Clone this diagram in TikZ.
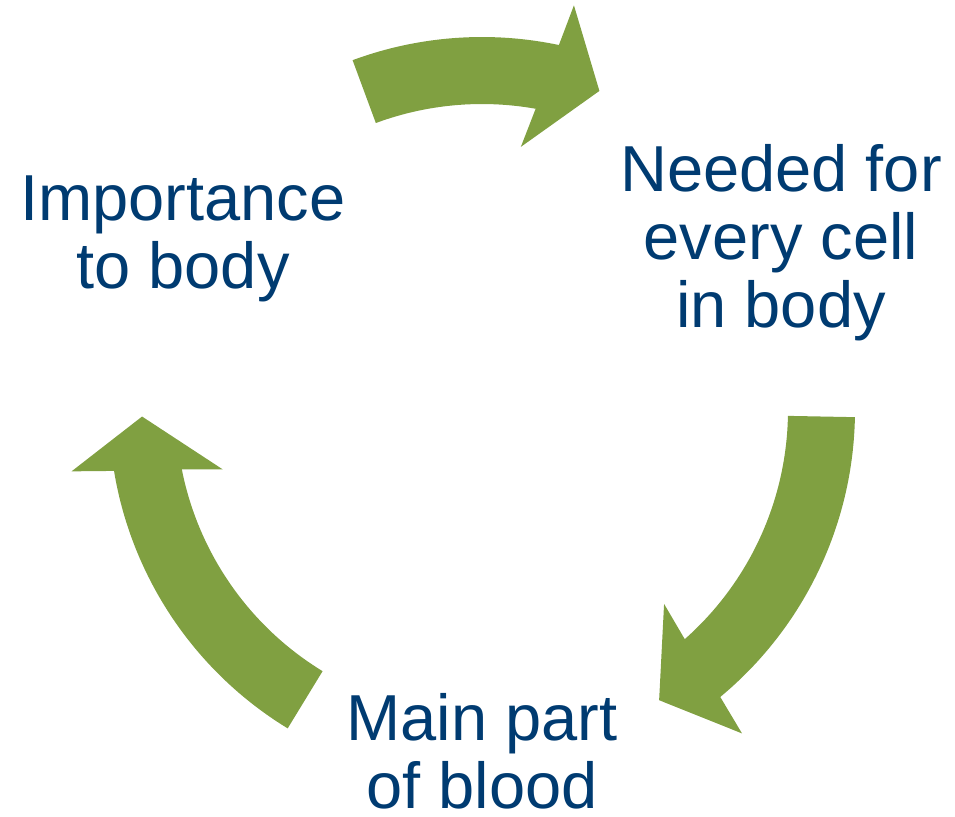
\documentclass[tikz,border=0pt]{standalone}
\usepackage{fontspec}
\newfontfamily\labelfont{Liberation Sans}
\usetikzlibrary{positioning}

\definecolor{cyclegreen}{RGB}{128,160,65}
\definecolor{cycleblue}{RGB}{0,59,113}

\tikzset{
  cyclearrow/.style={fill=cyclegreen, draw=none},
  cyclelabel/.style={text=cycleblue, align=center, anchor=base, inner sep=0pt,
    font=\labelfont\fontsize{32.5}{34}\selectfont}
}

\begin{document}
\begin{tikzpicture}[x=0.5pt, y=0.5pt]
      %\draw[help lines, step=50] (0, -816) grid (955, 0);
      \useasboundingbox (0, 0) rectangle (955, -816);

      % base anchor sits on the last line of each label
      \node[cyclelabel] (importance) at (183, -288) {Importance\\to body};
      \node[cyclelabel] (needed)     at (781, -327) {Needed for\\every cell\\in body};
      \node[cyclelabel] (blood)      at (482, -808) {Main part\\of blood};

      \coordinate (hub) at (482, -410);

      % curved block arrows, running clockwise round the hub
      \begin{scope}[shift={(hub)}]
        \fill[cyclearrow] (110.3:373) arc[start angle=110.3, end angle=78.1, radius=373]
          -- (77.2:415) -- (69.8:340) -- (81.6:266) -- (79.9:306)
          arc[start angle=79.9, end angle=110.3, radius=306] -- cycle;

        \fill[cyclearrow] (-1.1:373) arc[start angle=-1.1, end angle=-50.3, radius=373]
          -- (-51.2:415) -- (-58.6:340) -- (-46.8:266) -- (-48.5:306)
          arc[start angle=-48.5, end angle=-1.1, radius=306] -- cycle;

        \fill[cyclearrow] (238.6:373) arc[start angle=238.6, end angle=189.4, radius=373]
          -- (188.5:415) -- (181.1:340) -- (192.9:266) -- (191.2:306)
          arc[start angle=191.2, end angle=238.6, radius=306] -- cycle;
      \end{scope}
\end{tikzpicture}
\end{document}
